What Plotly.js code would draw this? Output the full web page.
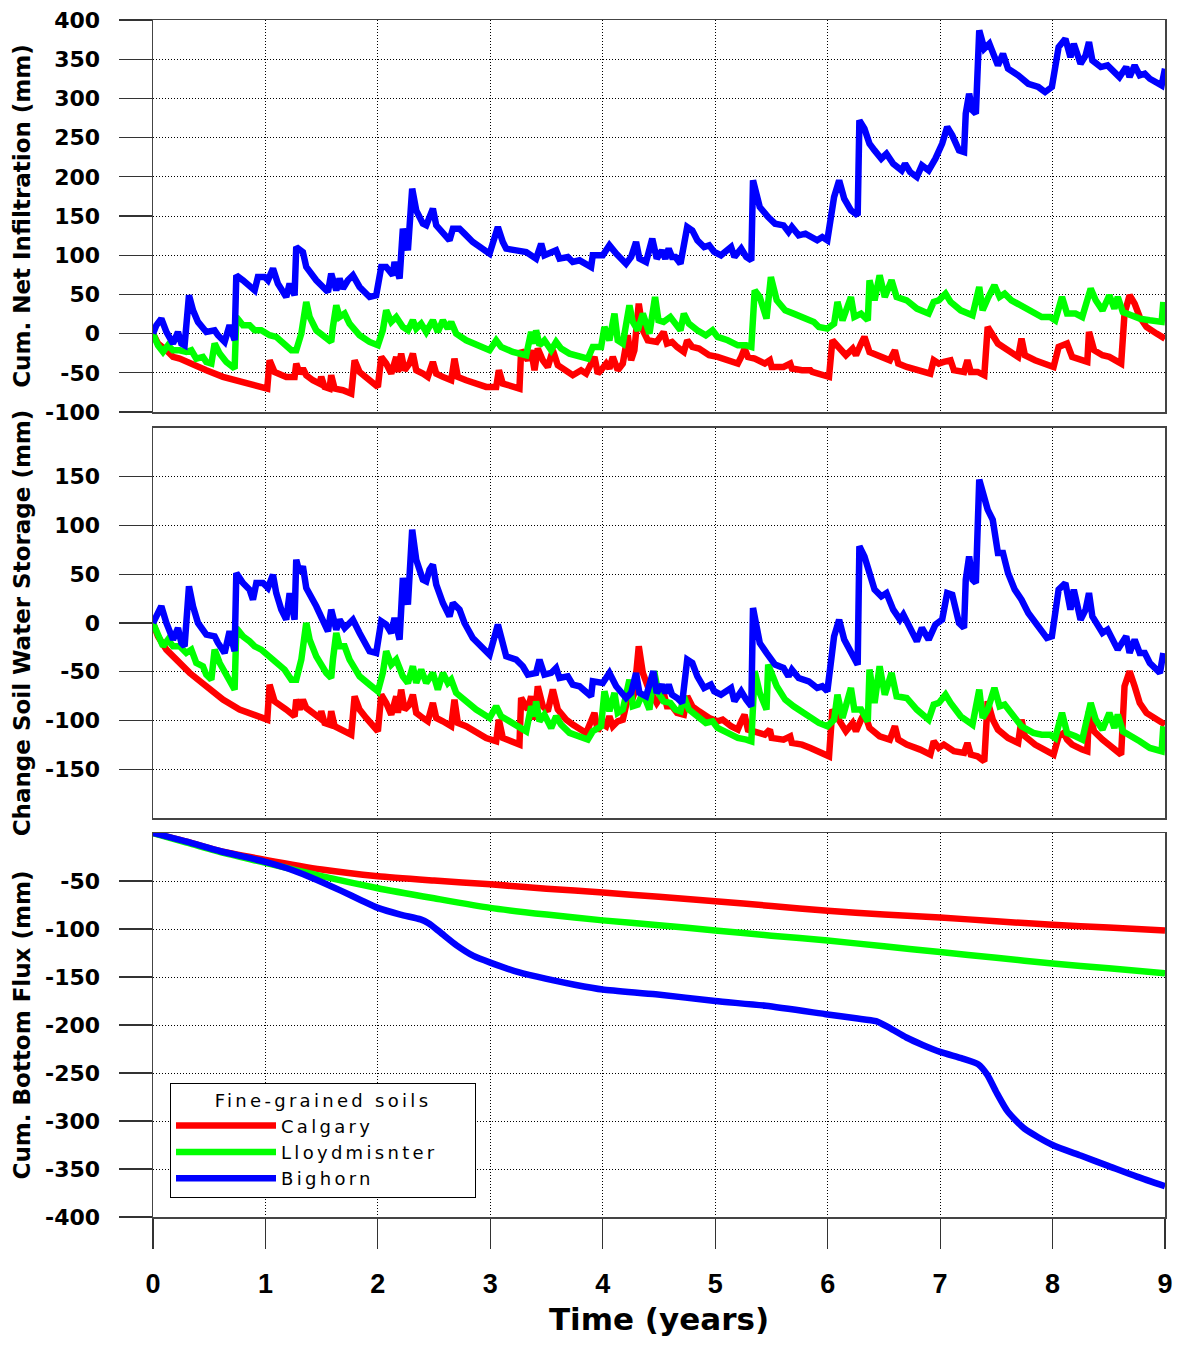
<!DOCTYPE html>
<html>
<head>
<meta charset="utf-8">
<script src="https://cdn.plot.ly/plotly-3.0.1.min.js"></script>
<style>
  html, body { margin: 0; padding: 0; background: #fff; }
  #chart { width: 1180px; height: 1348px; }
  /* wide-tracked legend lettering */
  text.legendtext, text.legendtitletext { letter-spacing: 3.3px; }
</style>
</head>
<body>
<div id="chart"></div>
<script>
// ---------- Data: [time (years), value (mm)] ----------

// Cumulative net infiltration
const infilCalgary = [[0,0],[0.044,-12.7],[0.119,-21.2],[0.178,-29.7],[0.237,-31.9],[0.326,-38.2],[0.474,-46.7],[0.622,-55.2],[0.77,-61.6],[0.919,-65.9],[1.016,-70.1],[1.037,-34.0],[1.081,-48.9],[1.185,-55.2],[1.259,-55.2],[1.274,-38.2],[1.304,-51.0],[1.333,-44.6],[1.363,-53.1],[1.422,-59.5],[1.481,-63.7],[1.496,-55.2],[1.526,-68.0],[1.57,-70.1],[1.585,-53.1],[1.615,-70.1],[1.689,-72.2],[1.763,-76.5],[1.793,-34.0],[1.837,-48.9],[1.896,-55.2],[1.956,-63.7],[2.0,-68.0],[2.03,-29.7],[2.074,-38.2],[2.119,-51.0],[2.163,-29.7],[2.178,-48.9],[2.207,-25.5],[2.237,-46.7],[2.281,-38.2],[2.311,-25.5],[2.341,-46.7],[2.4,-51.0],[2.444,-55.2],[2.489,-36.1],[2.519,-51.0],[2.578,-55.2],[2.652,-59.5],[2.681,-31.9],[2.711,-55.2],[2.785,-59.5],[2.874,-63.7],[2.963,-68.0],[3.052,-68.0],[3.076,-46.7],[3.111,-63.7],[3.17,-65.9],[3.259,-70.1],[3.274,-21.2],[3.333,-34.0],[3.363,-21.2],[3.393,-46.7],[3.422,-19.1],[3.467,-34.0],[3.511,-42.5],[3.556,-21.2],[3.6,-40.4],[3.674,-48.9],[3.733,-53.1],[3.807,-46.7],[3.852,-51.0],[3.926,-29.7],[3.956,-51.0],[3.985,-46.7],[4.03,-38.2],[4.059,-44.6],[4.089,-29.7],[4.133,-46.7],[4.178,-38.2],[4.222,-2.1],[4.252,-34.0],[4.281,-21.2],[4.32,38.2],[4.356,4.2],[4.4,-8.5],[4.48,-10.6],[4.541,2.1],[4.571,-12.7],[4.616,-10.6],[4.661,-17.0],[4.721,-23.4],[4.751,-8.5],[4.796,-17.0],[4.856,-19.1],[4.946,-27.6],[5.021,-29.7],[5.066,-31.9],[5.141,-36.1],[5.201,-38.2],[5.231,-29.7],[5.261,-19.1],[5.291,-29.7],[5.351,-31.9],[5.441,-38.2],[5.486,-34.0],[5.502,-42.5],[5.607,-42.5],[5.667,-38.2],[5.682,-44.6],[5.772,-46.7],[5.847,-46.7],[5.862,-48.9],[5.922,-51.0],[6.012,-55.2],[6.042,-8.5],[6.102,-17.0],[6.162,-27.6],[6.222,-19.1],[6.252,-27.6],[6.297,-12.7],[6.327,-4.2],[6.372,-23.4],[6.462,-29.7],[6.553,-34.0],[6.598,-21.2],[6.628,-38.2],[6.703,-42.5],[6.823,-46.7],[6.913,-51.0],[6.943,-34.0],[6.988,-38.2],[7.033,-36.1],[7.093,-34.0],[7.123,-46.7],[7.213,-48.9],[7.243,-34.0],[7.273,-48.9],[7.333,-48.9],[7.393,-53.1],[7.423,8.5],[7.468,-2.1],[7.514,-12.7],[7.604,-21.2],[7.694,-29.7],[7.724,-6.4],[7.754,-27.6],[7.844,-34.0],[7.919,-38.2],[8.009,-42.5],[8.054,-17.0],[8.099,-14.9],[8.129,-12.7],[8.174,-29.7],[8.264,-34.0],[8.309,-36.1],[8.324,2.1],[8.369,-21.2],[8.444,-27.6],[8.505,-29.7],[8.61,-38.2],[8.64,25.5],[8.685,48.9],[8.73,38.2],[8.775,21.2],[8.835,8.5],[8.925,0],[9.0,-6.4]];

const infilLloyd = [[0,0],[0.044,-14.9],[0.089,-23.4],[0.133,-14.9],[0.178,-21.2],[0.237,-21.2],[0.296,-23.4],[0.341,-21.2],[0.385,-31.9],[0.444,-29.7],[0.474,-36.1],[0.519,-38.2],[0.548,-12.7],[0.593,-25.5],[0.652,-36.1],[0.726,-44.6],[0.741,21.2],[0.8,10.6],[0.859,10.6],[0.904,4.2],[0.963,4.2],[1.037,-2.1],[1.096,-4.2],[1.17,-12.7],[1.23,-21.2],[1.274,-21.2],[1.319,0],[1.363,40.4],[1.393,21.2],[1.452,4.2],[1.541,-6.4],[1.585,-10.6],[1.6,8.5],[1.63,36.1],[1.659,21.2],[1.704,25.5],[1.748,12.7],[1.837,-2.1],[1.926,-10.6],[2.0,-14.9],[2.044,4.2],[2.074,29.7],[2.119,14.9],[2.163,21.2],[2.222,8.5],[2.267,4.2],[2.311,17.0],[2.341,6.4],[2.385,12.7],[2.43,2.1],[2.489,17.0],[2.533,2.1],[2.578,17.0],[2.622,6.4],[2.652,14.9],[2.696,0],[2.785,-8.5],[2.874,-14.9],[2.993,-21.2],[3.052,-8.5],[3.096,-17.0],[3.2,-23.4],[3.319,-27.6],[3.363,2.1],[3.393,-12.7],[3.407,4.2],[3.437,-14.9],[3.481,-8.5],[3.541,-21.2],[3.585,-10.6],[3.63,-19.1],[3.704,-25.5],[3.793,-29.7],[3.867,-31.9],[3.911,-17.0],[3.985,-17.0],[4.015,8.5],[4.059,-8.5],[4.104,25.5],[4.133,-8.5],[4.178,-12.7],[4.237,36.1],[4.267,14.9],[4.311,4.2],[4.356,25.5],[4.415,0],[4.465,46.7],[4.495,17.0],[4.541,14.9],[4.601,21.2],[4.646,12.7],[4.691,4.2],[4.721,25.5],[4.766,12.7],[4.841,4.2],[4.916,-2.1],[4.976,4.2],[5.021,-4.2],[5.111,-8.5],[5.201,-14.9],[5.276,-14.9],[5.321,-17.0],[5.351,55.2],[5.396,46.7],[5.456,19.1],[5.495,72.2],[5.547,42.5],[5.622,29.7],[5.697,25.5],[5.787,19.1],[5.877,14.9],[5.922,8.5],[5.997,6.4],[6.057,12.7],[6.087,40.4],[6.132,17.0],[6.207,46.7],[6.237,21.2],[6.297,25.5],[6.357,17.0],[6.372,68.0],[6.417,42.5],[6.462,74.4],[6.508,46.7],[6.568,68.0],[6.613,46.7],[6.703,42.5],[6.793,31.9],[6.898,25.5],[6.943,40.4],[6.988,42.5],[7.048,51.0],[7.093,40.4],[7.183,29.7],[7.288,23.4],[7.348,59.5],[7.378,29.7],[7.423,44.6],[7.483,61.6],[7.529,46.7],[7.574,51.0],[7.634,42.5],[7.724,36.1],[7.829,27.6],[7.904,21.2],[7.979,21.2],[8.024,17.0],[8.084,46.7],[8.129,25.5],[8.204,25.5],[8.264,21.2],[8.339,57.4],[8.384,42.5],[8.444,29.7],[8.505,48.9],[8.55,31.9],[8.58,46.7],[8.625,27.6],[8.685,23.4],[8.775,19.1],[8.865,17.0],[8.97,14.9],[8.985,40.4]];

const infilBighorn = [[0,0],[0.03,10.6],[0.074,19.1],[0.119,2.1],[0.178,-12.7],[0.222,2.1],[0.252,-12.7],[0.281,-14.9],[0.32,48.9],[0.356,29.7],[0.4,14.9],[0.474,2.1],[0.548,4.2],[0.578,-2.1],[0.637,-10.6],[0.681,10.6],[0.726,-8.5],[0.741,74.4],[0.8,68.0],[0.859,61.6],[0.904,55.2],[0.933,72.2],[0.993,72.2],[1.022,68.0],[1.067,82.9],[1.111,63.7],[1.185,46.7],[1.215,63.7],[1.259,48.9],[1.274,110.5],[1.304,106.2],[1.333,104.1],[1.363,85.0],[1.452,68.0],[1.556,53.1],[1.585,76.5],[1.63,55.2],[1.659,70.1],[1.689,57.4],[1.733,68.0],[1.778,74.4],[1.837,59.5],[1.926,46.7],[1.985,48.9],[2.03,85.0],[2.074,85.0],[2.133,74.4],[2.148,91.4],[2.193,70.1],[2.222,133.9],[2.267,106.2],[2.305,184.9],[2.341,157.2],[2.4,140.2],[2.43,138.1],[2.459,150.9],[2.489,159.4],[2.519,138.1],[2.578,127.5],[2.637,119.0],[2.667,133.9],[2.726,133.9],[2.77,127.5],[2.844,116.9],[2.993,102.0],[3.067,136.0],[3.111,116.9],[3.141,108.4],[3.23,106.2],[3.319,104.1],[3.407,95.6],[3.452,114.7],[3.481,99.9],[3.526,102.0],[3.585,106.2],[3.615,95.6],[3.689,97.7],[3.733,91.4],[3.793,93.5],[3.896,85.0],[3.911,99.9],[4.0,99.9],[4.059,112.6],[4.119,102.0],[4.207,89.2],[4.252,97.7],[4.296,116.9],[4.326,95.6],[4.385,91.4],[4.44,121.1],[4.48,95.6],[4.526,106.2],[4.556,95.6],[4.586,108.4],[4.616,97.7],[4.646,97.7],[4.691,89.2],[4.751,136.0],[4.796,131.7],[4.841,119.0],[4.901,110.5],[4.946,112.6],[4.991,104.1],[5.051,99.9],[5.141,110.5],[5.171,97.7],[5.231,108.4],[5.276,97.7],[5.321,93.5],[5.336,195.5],[5.366,174.2],[5.396,161.5],[5.471,148.7],[5.532,140.2],[5.607,138.1],[5.652,129.6],[5.682,136.0],[5.742,125.4],[5.802,127.5],[5.862,123.2],[5.907,119.0],[5.952,123.2],[5.997,119.0],[6.057,174.2],[6.102,195.5],[6.147,172.1],[6.207,157.2],[6.267,150.9],[6.282,272.0],[6.327,261.4],[6.372,242.2],[6.417,233.7],[6.477,223.1],[6.523,229.5],[6.583,216.7],[6.658,208.2],[6.688,216.7],[6.733,206.1],[6.793,199.7],[6.838,214.6],[6.898,208.2],[6.958,223.1],[7.018,242.2],[7.063,263.5],[7.108,252.9],[7.168,233.7],[7.213,231.6],[7.228,280.5],[7.258,306.0],[7.288,284.7],[7.318,280.5],[7.348,386.7],[7.393,363.4],[7.438,369.7],[7.468,357.0],[7.514,342.1],[7.559,357.0],[7.604,337.9],[7.694,329.4],[7.784,318.7],[7.874,314.5],[7.934,308.1],[7.994,314.5],[8.054,365.5],[8.114,376.1],[8.159,352.7],[8.189,369.7],[8.249,344.2],[8.294,354.9],[8.324,371.9],[8.354,348.5],[8.429,340.0],[8.489,342.1],[8.595,327.2],[8.655,340.0],[8.685,327.2],[8.73,342.1],[8.775,329.4],[8.82,331.5],[8.865,325.1],[8.97,316.6],[8.985,335.7],[9.0,337.9]];

// Change in soil water storage
const storCalgary = [[0,0],[0.044,-13.7],[0.119,-27.3],[0.178,-34.2],[0.237,-41.0],[0.326,-51.2],[0.474,-64.9],[0.622,-78.6],[0.77,-88.8],[0.919,-95.7],[1.016,-99.1],[1.037,-63.2],[1.081,-80.3],[1.185,-88.8],[1.259,-95.7],[1.274,-78.6],[1.304,-88.8],[1.333,-78.6],[1.363,-87.1],[1.422,-92.2],[1.481,-97.4],[1.496,-90.5],[1.526,-102.5],[1.57,-104.2],[1.585,-90.5],[1.615,-105.9],[1.689,-111.0],[1.763,-114.5],[1.793,-75.2],[1.837,-88.8],[1.896,-97.4],[1.956,-105.9],[2.0,-111.0],[2.03,-73.5],[2.074,-82.0],[2.119,-94.0],[2.163,-75.2],[2.178,-92.2],[2.207,-68.3],[2.237,-88.8],[2.281,-83.7],[2.311,-73.5],[2.341,-92.2],[2.4,-97.4],[2.444,-100.8],[2.489,-82.0],[2.519,-97.4],[2.578,-100.8],[2.652,-105.9],[2.681,-78.6],[2.711,-102.5],[2.785,-105.9],[2.874,-112.7],[2.963,-117.9],[3.052,-121.3],[3.076,-99.1],[3.111,-117.9],[3.17,-121.3],[3.259,-124.7],[3.274,-76.9],[3.333,-88.8],[3.363,-75.2],[3.393,-99.1],[3.422,-64.9],[3.467,-85.4],[3.511,-90.5],[3.556,-68.3],[3.6,-88.8],[3.674,-99.1],[3.733,-104.2],[3.807,-109.3],[3.852,-112.7],[3.926,-92.2],[3.956,-111.0],[3.985,-102.5],[4.03,-105.9],[4.059,-95.7],[4.089,-105.9],[4.133,-100.8],[4.178,-99.1],[4.222,-76.9],[4.252,-82.0],[4.281,-71.7],[4.32,-23.9],[4.356,-51.2],[4.4,-64.9],[4.48,-82.0],[4.541,-71.7],[4.571,-85.4],[4.616,-85.4],[4.661,-92.2],[4.721,-94.0],[4.751,-75.2],[4.796,-85.4],[4.856,-90.5],[4.946,-97.4],[5.021,-100.8],[5.066,-99.1],[5.141,-105.9],[5.201,-109.3],[5.231,-100.8],[5.261,-94.0],[5.291,-109.3],[5.351,-111.0],[5.441,-114.5],[5.486,-109.3],[5.502,-117.9],[5.607,-119.6],[5.667,-116.2],[5.682,-123.0],[5.772,-124.7],[5.847,-128.1],[5.922,-131.5],[6.012,-136.7],[6.042,-88.8],[6.102,-99.1],[6.162,-111.0],[6.222,-102.5],[6.252,-111.0],[6.297,-99.1],[6.327,-92.2],[6.372,-107.6],[6.462,-116.2],[6.553,-119.6],[6.598,-105.9],[6.628,-119.6],[6.703,-124.7],[6.823,-129.8],[6.913,-135.0],[6.943,-121.3],[6.988,-128.1],[7.033,-124.7],[7.093,-128.1],[7.123,-131.5],[7.213,-133.2],[7.243,-123.0],[7.273,-135.0],[7.333,-136.7],[7.393,-141.8],[7.423,-80.3],[7.468,-99.1],[7.514,-109.3],[7.604,-117.9],[7.694,-123.0],[7.724,-99.1],[7.754,-116.2],[7.844,-124.7],[7.919,-129.8],[8.009,-135.0],[8.054,-116.2],[8.099,-112.7],[8.129,-119.6],[8.174,-124.7],[8.264,-129.8],[8.309,-131.5],[8.324,-90.5],[8.369,-111.0],[8.444,-119.6],[8.505,-124.7],[8.61,-135.0],[8.64,-64.9],[8.685,-49.5],[8.73,-64.9],[8.775,-82.0],[8.835,-92.2],[8.925,-99.1],[9.0,-104.2]];

const storLloyd = [[0,0],[0.044,-13.7],[0.089,-23.9],[0.133,-17.1],[0.178,-23.9],[0.237,-23.9],[0.296,-30.7],[0.341,-27.3],[0.385,-41.0],[0.444,-44.4],[0.474,-53.0],[0.519,-58.1],[0.548,-27.3],[0.593,-41.0],[0.652,-54.7],[0.726,-68.3],[0.741,-5.1],[0.8,-13.7],[0.859,-18.8],[0.904,-23.9],[0.963,-27.3],[1.037,-34.2],[1.096,-41.0],[1.17,-47.8],[1.23,-58.1],[1.274,-58.1],[1.319,-37.6],[1.363,0],[1.393,-17.1],[1.452,-34.2],[1.541,-51.2],[1.585,-56.4],[1.6,-37.6],[1.63,-10.2],[1.659,-23.9],[1.704,-23.9],[1.748,-37.6],[1.837,-54.7],[1.926,-63.2],[2.0,-70.0],[2.044,-51.2],[2.074,-29.0],[2.119,-42.7],[2.163,-37.6],[2.222,-54.7],[2.267,-61.5],[2.311,-44.4],[2.341,-61.5],[2.385,-47.8],[2.43,-61.5],[2.489,-51.2],[2.533,-68.3],[2.578,-51.2],[2.622,-61.5],[2.652,-58.1],[2.696,-71.7],[2.785,-80.3],[2.874,-88.8],[2.993,-97.4],[3.052,-85.4],[3.096,-95.7],[3.2,-102.5],[3.319,-111.0],[3.363,-85.4],[3.393,-95.7],[3.407,-80.3],[3.437,-100.8],[3.481,-94.0],[3.541,-107.6],[3.585,-95.7],[3.63,-104.2],[3.704,-112.7],[3.793,-116.2],[3.867,-119.6],[3.911,-111.0],[3.985,-105.9],[4.015,-70.0],[4.059,-90.5],[4.104,-71.7],[4.133,-92.2],[4.178,-88.8],[4.237,-58.1],[4.267,-85.4],[4.311,-83.7],[4.356,-71.7],[4.415,-88.8],[4.456,-49.5],[4.495,-71.7],[4.541,-80.3],[4.601,-82.0],[4.646,-88.8],[4.691,-90.5],[4.721,-75.2],[4.766,-88.8],[4.841,-95.7],[4.916,-102.5],[4.976,-100.8],[5.021,-107.6],[5.111,-112.7],[5.201,-117.9],[5.276,-119.6],[5.321,-121.3],[5.351,-49.5],[5.396,-71.7],[5.456,-88.8],[5.471,-42.7],[5.547,-64.9],[5.622,-78.6],[5.697,-85.4],[5.787,-92.2],[5.877,-97.4],[5.922,-102.5],[5.997,-105.9],[6.057,-99.1],[6.087,-73.5],[6.132,-97.4],[6.207,-66.6],[6.237,-88.8],[6.297,-88.8],[6.357,-100.8],[6.372,-47.8],[6.417,-82.0],[6.462,-44.4],[6.508,-73.5],[6.568,-51.2],[6.613,-75.2],[6.703,-76.9],[6.793,-88.8],[6.898,-99.1],[6.943,-83.7],[6.988,-82.0],[7.048,-73.5],[7.093,-82.0],[7.183,-95.7],[7.288,-104.2],[7.348,-68.3],[7.378,-97.4],[7.423,-88.8],[7.483,-66.6],[7.529,-85.4],[7.574,-83.7],[7.634,-92.2],[7.724,-105.9],[7.829,-112.7],[7.904,-114.5],[7.979,-114.5],[8.024,-117.9],[8.084,-92.2],[8.129,-112.7],[8.204,-116.2],[8.264,-119.6],[8.339,-82.0],[8.384,-99.1],[8.444,-109.3],[8.505,-92.2],[8.55,-107.6],[8.58,-94.0],[8.625,-111.0],[8.685,-114.5],[8.775,-121.3],[8.865,-128.1],[8.97,-131.5],[8.985,-105.9]];

const storBighorn = [[0,0],[0.03,6.8],[0.074,17.1],[0.119,0],[0.178,-17.1],[0.222,-5.1],[0.252,-20.5],[0.281,-23.9],[0.32,37.6],[0.356,17.1],[0.4,0],[0.474,-12.0],[0.548,-13.7],[0.578,-20.5],[0.637,-30.7],[0.681,-8.5],[0.726,-29.0],[0.741,51.2],[0.8,41.0],[0.859,34.2],[0.889,23.9],[0.919,41.0],[0.978,41.0],[1.022,35.9],[1.067,49.5],[1.096,30.7],[1.141,13.7],[1.185,3.4],[1.215,30.7],[1.259,3.4],[1.274,64.9],[1.304,51.2],[1.333,58.1],[1.363,35.9],[1.452,17.1],[1.556,-8.5],[1.585,13.7],[1.63,-6.8],[1.659,3.4],[1.704,-5.1],[1.733,-1.7],[1.778,3.4],[1.837,-10.2],[1.926,-29.0],[1.985,-30.7],[2.03,1.7],[2.074,-1.7],[2.119,-10.2],[2.148,5.1],[2.193,-17.1],[2.222,46.1],[2.267,18.8],[2.305,95.7],[2.341,64.9],[2.4,44.4],[2.43,42.7],[2.459,54.7],[2.489,59.8],[2.519,39.3],[2.578,20.5],[2.637,6.8],[2.667,20.5],[2.726,13.7],[2.77,0],[2.844,-15.4],[2.993,-32.5],[3.067,-1.7],[3.111,-23.9],[3.141,-34.2],[3.23,-37.6],[3.289,-44.4],[3.333,-53.0],[3.407,-51.2],[3.437,-37.6],[3.481,-53.0],[3.541,-51.2],[3.585,-46.1],[3.615,-56.4],[3.689,-54.7],[3.733,-63.2],[3.793,-64.9],[3.896,-75.2],[3.911,-59.8],[4.0,-61.5],[4.059,-51.2],[4.119,-64.9],[4.207,-76.9],[4.252,-71.7],[4.296,-51.2],[4.326,-71.7],[4.385,-75.2],[4.45,-49.5],[4.48,-71.7],[4.526,-63.2],[4.556,-71.7],[4.586,-63.2],[4.616,-73.5],[4.661,-76.9],[4.706,-82.0],[4.751,-37.6],[4.796,-41.0],[4.841,-54.7],[4.901,-66.6],[4.961,-63.2],[4.991,-70.0],[5.051,-73.5],[5.141,-66.6],[5.171,-80.3],[5.231,-70.0],[5.276,-78.6],[5.321,-85.4],[5.336,15.4],[5.366,-3.4],[5.396,-20.5],[5.456,-30.7],[5.532,-42.7],[5.607,-46.1],[5.652,-54.7],[5.682,-47.8],[5.742,-56.4],[5.832,-59.8],[5.907,-66.6],[5.952,-64.9],[5.997,-70.0],[6.057,-13.7],[6.102,3.4],[6.147,-17.1],[6.222,-34.2],[6.267,-42.7],[6.282,78.6],[6.327,68.3],[6.372,51.2],[6.417,34.2],[6.477,27.3],[6.523,30.7],[6.583,13.7],[6.643,3.4],[6.673,8.5],[6.733,-6.8],[6.793,-18.8],[6.838,-5.1],[6.898,-17.1],[6.958,-1.7],[7.018,3.4],[7.063,30.7],[7.108,29.0],[7.168,0],[7.213,-5.1],[7.228,44.4],[7.258,68.3],[7.288,44.4],[7.318,41.0],[7.348,146.9],[7.393,126.4],[7.423,116.2],[7.468,105.9],[7.514,71.7],[7.559,71.7],[7.604,51.2],[7.664,34.2],[7.724,23.9],[7.784,10.2],[7.874,-5.1],[7.949,-15.4],[7.994,-13.7],[8.054,34.2],[8.114,41.0],[8.159,13.7],[8.189,34.2],[8.249,3.4],[8.294,13.7],[8.324,30.7],[8.354,6.8],[8.444,-10.2],[8.489,-6.8],[8.58,-27.3],[8.655,-13.7],[8.685,-30.7],[8.73,-17.1],[8.775,-30.7],[8.82,-30.7],[8.865,-41.0],[8.955,-51.2],[8.985,-30.7]];

// Cumulative bottom flux
const fluxCalgary = [[0,0],[0.3,-9],[0.6,-19],[1,-28],[1.5,-38],[2,-45],[2.5,-49.5],[3,-53.5],[3.5,-58],[4,-62],[4.5,-66.5],[5,-71],[5.5,-76],[6,-81],[6.5,-85],[7,-88],[7.5,-92],[8,-95.6],[8.5,-98.5],[9,-101.5]];
const fluxLloyd = [[0,0],[0.3,-10],[0.6,-20],[1,-31],[1.5,-45],[2,-57.5],[2.5,-68],[3,-78],[3.5,-85],[4,-91],[4.5,-96],[5,-101.5],[5.5,-107],[6,-112],[6.5,-118],[7,-124],[7.5,-130],[8,-136],[8.5,-141],[9,-146]];
const fluxBighorn = [[0,0],[0.3,-9],[0.6,-19],[1,-30],[1.2,-37],[1.4,-46],[1.67,-60],[1.85,-70],[2,-78],[2.2,-85],[2.38,-90],[2.45,-94],[2.55,-103],[2.7,-117],[2.85,-128],[3,-135],[3.25,-145],[3.5,-152],[3.75,-158],[4,-163],[4.47,-168],[5,-175],[5.45,-180],[6,-189],[6.25,-193],[6.43,-196],[6.55,-203],[6.7,-213],[6.85,-221],[7,-228],[7.2,-235],[7.34,-241],[7.42,-252],[7.5,-270],[7.6,-290],[7.75,-308],[8,-325],[8.25,-336],[8.5,-347],[8.75,-358],[9,-368]];

const soilNames = ['Calgary', 'Lloydmisnter', 'Bighorn'];
const soilColors = ['#ff0000', '#00ff00', '#0000ff'];
const legendHeading = 'Fine-grained soils';
const yearTicks = [0, 1, 2, 3, 4, 5, 6, 7, 8, 9];
const infilTicks = [-100, -50, 0, 50, 100, 150, 200, 250, 300, 350, 400];
const storTicks = [-150, -100, -50, 0, 50, 100, 150];
const fluxTicks = [-50, -100, -150, -200, -250, -300, -350, -400];

// ---------- Traces ----------
function series(pairs, i, xa, ya, showInLegend, shape) {
  return {
    type: 'scatter', mode: 'lines',
    x: pairs.map(p => p[0]), y: pairs.map(p => p[1]),
    xaxis: xa, yaxis: ya,
    name: soilNames[i],
    legendgroup: soilNames[i],
    showlegend: showInLegend,
    line: { color: soilColors[i], width: 6.5, shape: shape || 'linear', smoothing: 0.6 },
    hoverinfo: 'skip'
  };
}

const traces = [
  series(fluxCalgary, 0, 'x', 'y', true, 'spline'),
  series(fluxLloyd, 1, 'x', 'y', true, 'spline'),
  series(fluxBighorn, 2, 'x', 'y', true, 'spline'),
  series(storCalgary, 0, 'x2', 'y2', false),
  series(storLloyd, 1, 'x2', 'y2', false),
  series(storBighorn, 2, 'x2', 'y2', false),
  series(infilCalgary, 0, 'x3', 'y3', false),
  series(infilLloyd, 1, 'x3', 'y3', false),
  series(infilBighorn, 2, 'x3', 'y3', false)
];

// ---------- Layout ----------
const yTickFont = { family: 'DejaVu Sans, sans-serif', size: 22, color: '#000', weight: 'bold' };
const yTitleFont = { family: 'DejaVu Sans, sans-serif', size: 23, color: '#000', weight: 'bold' };
const gridDash = '1px,2px';
// non-breaking padding either side of the legend heading widens the legend box
const pad = '\u00a0'.repeat(4) + '\u200a';

function xAxis(extra) {
  return Object.assign({
    range: [0, 9], tickvals: yearTicks,
    showgrid: true, gridcolor: '#000', gridwidth: 1, griddash: gridDash,
    zeroline: false,
    showline: true, linecolor: '#444', linewidth: 1.5, mirror: true,
    fixedrange: true
  }, extra);
}
function yAxis(ticks, extra) {
  return Object.assign({
    tickvals: ticks, ticktext: ticks.map(String),
    showgrid: true, gridcolor: '#000', gridwidth: 1, griddash: gridDash,
    zeroline: false,
    showline: true, linecolor: '#444', linewidth: 1.5, mirror: true,
    ticks: 'outside', ticklen: 33, tickwidth: 1.2, tickcolor: '#333',
    tickfont: yTickFont, ticklabelstandoff: 14,
    fixedrange: true
  }, extra);
}

const layout = {
  width: 1180, height: 1348,
  paper_bgcolor: '#fff', plot_bgcolor: '#fff',
  margin: { l: 153, r: 15, t: 20, b: 131 },
  showlegend: true,
  xaxis: xAxis({
    anchor: 'y',
    ticks: 'outside', ticklen: 30, tickwidth: 1.2, tickcolor: '#333',
    tickfont: { family: 'Liberation Sans, Arial, sans-serif', size: 27, color: '#000', weight: 'bold' },
    ticklabelstandoff: 12,
    title: { text: 'Time (years)', standoff: 10,
             font: { family: 'DejaVu Sans, sans-serif', size: 31, color: '#000', weight: 'bold' } }
  }),
  xaxis2: xAxis({ anchor: 'y2', matches: 'x', showticklabels: false, ticks: '' }),
  xaxis3: xAxis({ anchor: 'y3', matches: 'x', showticklabels: false, ticks: '' }),
  yaxis: yAxis(fluxTicks, {
    domain: [0, 0.3208], range: [-400, 0],
    title: { text: 'Cum. Bottom Flux (mm)', font: yTitleFont, standoff: 8 }
  }),
  yaxis2: yAxis(storTicks, {
    domain: [0.3333, 0.6592], range: [-200, 200],
    title: { text: 'Change Soil Water Storage (mm)', font: yTitleFont, standoff: 8 }
  }),
  yaxis3: yAxis(infilTicks, {
    domain: [0.6725, 1], range: [-100, 400],
    title: { text: 'Cum. Net Infiltration (mm)', font: yTitleFont, standoff: 8 }
  }),
  legend: {
    x: 0.0168, y: 0.112, xanchor: 'left', yanchor: 'top',
    bgcolor: '#fff', bordercolor: '#000', borderwidth: 1,
    font: { family: 'DejaVu Sans, sans-serif', size: 18, color: '#000' },
    title: { text: pad + legendHeading + pad, side: 'top center',
             font: { family: 'DejaVu Sans, sans-serif', size: 18, color: '#000' } },
    itemwidth: 100, traceorder: 'normal', tracegroupgap: 0
  }
};

Plotly.newPlot('chart', traces, layout, { displayModeBar: false, staticPlot: true });
</script>
</body>
</html>
